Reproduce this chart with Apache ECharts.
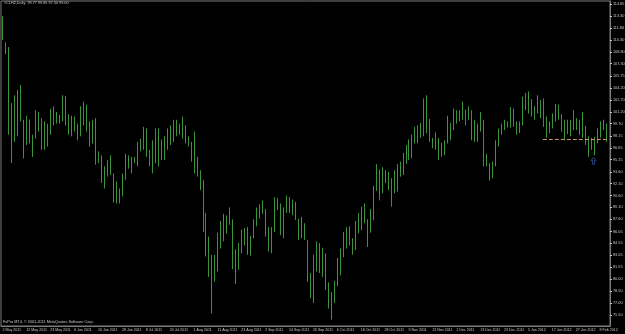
<!DOCTYPE html>
<html>
<head>
<meta charset="utf-8">
<script src="https://cdn.jsdelivr.net/npm/echarts@6/dist/echarts.min.js"></script>
<style>
    html, body { margin: 0; padding: 0; background: #000; }
    #chart { width: 625px; height: 334px; }
</style>
</head>
<body>
<div id="chart"></div>
<script>
// daily high / low of each bar, left to right
const highs = [
    113.3, 110.0, 109.4, 102.3, 103.3, 104.0, 104.6, 100.2, 100.7, 100.2,
    98.3, 101.4, 101.2, 100.4, 100.0, 99.7, 101.6, 101.9, 101.2, 100.8,
    103.3, 103.2, 100.9, 100.7, 100.6, 99.7, 101.9, 102.5, 102.1, 100.0,
    100.2, 100.4, 96.2, 95.7, 94.3, 95.1, 95.7, 93.4, 92.4, 91.5,
    93.4, 95.9, 95.7, 95.5, 95.5, 97.4, 97.8, 99.3, 99.1, 96.4,
    97.6, 99.1, 99.1, 97.7, 98.1, 99.1, 99.5, 100.2, 100.2, 99.7,
    100.6, 99.5, 98.1, 97.4, 98.7, 95.5, 93.8, 92.6, 88.4, 85.4,
    83.1, 83.1, 85.9, 87.4, 88.3, 88.1, 89.1, 87.6, 83.8, 84.6,
    86.3, 86.5, 86.6, 85.5, 87.6, 89.1, 89.5, 90.0, 88.9, 86.6,
    86.6, 90.4, 90.3, 89.6, 89.1, 90.6, 90.4, 90.1, 89.8, 87.7,
    87.9, 87.1, 85.0, 80.8, 83.1, 84.8, 84.6, 84.0, 83.3, 79.6,
    78.4, 79.8, 82.7, 83.9, 86.0, 86.6, 86.7, 85.2, 87.4, 88.4,
    89.2, 89.6, 87.6, 88.9, 91.8, 94.6, 93.9, 94.2, 93.8, 93.6,
    92.8, 93.8, 94.6, 94.9, 96.0, 97.0, 97.7, 98.3, 99.3, 99.5,
    99.8, 102.9, 103.3, 100.3, 97.9, 98.6, 97.9, 97.3, 97.6, 100.7,
    99.8, 101.6, 101.4, 101.4, 102.5, 101.5, 101.9, 101.4, 100.2, 99.7,
    101.2, 100.2, 95.9, 94.7, 94.9, 97.6, 99.1, 99.7, 100.2, 100.0,
    101.8, 101.6, 100.0, 100.0, 103.1, 103.6, 103.8, 102.8, 101.9, 103.3,
    102.7, 102.9, 100.6, 100.0, 101.0, 102.2, 102.1, 100.9, 100.2, 100.2,
    100.2, 101.4, 100.4, 100.2, 101.2, 99.4, 98.1, 97.9, 98.0, 99.1,
    100.0, 100.2, 99.7
]
const lows = [
    110.3, 108.5, 98.3, 94.7, 97.4, 98.1, 100.0, 95.3, 97.0, 97.2,
    95.5, 97.8, 98.7, 96.4, 96.4, 96.8, 98.3, 99.5, 99.7, 99.7,
    100.0, 99.5, 98.3, 98.1, 98.7, 97.6, 98.1, 99.5, 98.7, 96.8,
    97.2, 94.5, 94.7, 92.2, 91.5, 93.0, 93.2, 89.7, 89.6, 89.6,
    90.5, 92.6, 94.0, 93.4, 94.7, 94.3, 96.2, 96.4, 95.5, 94.3,
    93.4, 94.7, 94.3, 95.1, 95.1, 96.4, 97.0, 97.4, 98.1, 98.3,
    97.8, 97.2, 96.8, 94.9, 93.4, 93.0, 91.3, 86.0, 82.9, 80.3,
    75.7, 79.7, 81.0, 83.9, 84.8, 85.8, 86.9, 81.3, 79.4, 81.2,
    83.3, 84.3, 83.1, 83.0, 85.2, 86.7, 87.7, 88.3, 85.4, 83.5,
    83.3, 86.0, 88.8, 85.6, 85.2, 88.4, 88.4, 88.1, 87.5, 85.0,
    85.2, 85.0, 79.7, 77.6, 77.0, 81.0, 80.8, 80.3, 78.7, 76.3,
    74.9, 77.0, 79.1, 80.5, 82.8, 83.9, 84.3, 83.1, 83.7, 85.8,
    86.2, 87.1, 84.1, 85.9, 87.5, 91.2, 90.0, 90.9, 92.2, 91.3,
    89.2, 90.9, 91.1, 93.0, 93.2, 94.6, 95.1, 95.3, 97.2, 97.2,
    97.9, 98.1, 98.5, 97.4, 96.6, 96.4, 95.1, 95.5, 95.7, 97.2,
    97.6, 98.9, 99.7, 100.0, 100.2, 99.5, 100.2, 97.6, 97.4, 97.4,
    98.7, 94.3, 94.3, 92.5, 92.8, 94.3, 96.8, 98.3, 98.9, 99.2,
    99.2, 99.3, 98.3, 98.5, 99.5, 101.4, 101.0, 100.6, 100.2, 101.0,
    100.4, 99.3, 97.9, 98.5, 99.1, 100.0, 100.2, 98.7, 97.6, 98.4,
    98.1, 98.9, 98.9, 98.3, 97.9, 97.0, 95.5, 96.4, 95.7, 97.2,
    97.9, 98.9, 97.4
]
// date labels, one every 8 bars
const xLabels = [
    '2 May 2011', '12 May 2011', '23 May 2011', '6 Jun 2011', '16 Jun 2011',
    '28 Jun 2011', '8 Jul 2011', '20 Jul 2011', '1 Aug 2011', '11 Aug 2011',
    '23 Aug 2011', '2 Sep 2011', '14 Sep 2011', '26 Sep 2011', '6 Oct 2011',
    '18 Oct 2011', '28 Oct 2011', '9 Nov 2011', '21 Nov 2011', '1 Dec 2011',
    '13 Dec 2011', '23 Dec 2011', '5 Jan 2012', '17 Jan 2012', '27 Jan 2012',
    '8 Feb 2012'
]
// price scale labels
const yTicks = [
    114.85, 113.30, 111.80, 110.30, 108.80, 107.30, 105.75, 104.20, 102.70, 101.20,
    99.70, 98.15, 96.65, 95.15, 93.60, 92.10, 90.60, 89.10, 87.60, 86.05,
    84.55, 83.05, 81.55, 80.00, 78.50, 77.00, 75.50, 73.95
]
const lastClose = 99.00
const levelStart = 181
const levelPrice = 97.7
const arrowIndex = 198
const arrowPrice = 95.0
const headerText = '#CLH2,Daily  99.77 99.85 97.30 99.00'
const footerText = 'FxPro MT4, \u00a9 2001-2011 MetaQuotes Software Corp.'

const barColor = '#3a953a'
const axisColor = '#7c7c7c'
const textColor = '#c8c8c8'
const font = 'Liberation Sans'

// one spare slot on the right, like the chart shift of the terminal
const categories = highs.map((_, i) => String(i)).concat([''])

const chart = echarts.init(document.getElementById('chart'))

// 高低线
const renderBar = (params, api) => {
    const top = api.coord([api.value(0), api.value(1)])
    const bottom = api.coord([api.value(0), api.value(2)])
    const x = Math.round(top[0]) + 0.5
    return {
        type: 'line',
        shape: { x1: x, y1: top[1], x2: x, y2: bottom[1] },
        style: { stroke: barColor, lineWidth: 1 }
    }
}

const option = {
    backgroundColor: '#000',
    animation: false,
    grid: {
        left: 1,
        right: 15,
        top: 1,
        bottom: 8,
        show: true,
        borderColor: axisColor,
        borderWidth: 1,
        outerBoundsMode: 'none'
    },
    xAxis: {
        type: 'category',
        data: categories,
        boundaryGap: true,
        axisLine: { lineStyle: { color: axisColor } },
        axisTick: { interval: 7, alignWithLabel: true, length: 2, lineStyle: { color: textColor } },
        axisLabel: {
            interval: 7,
            align: 'left',
            margin: 2,
            fontSize: 3.6,
            fontFamily: font,
            color: textColor,
            formatter: v => xLabels[Number(v) / 8] || ''
        },
        splitLine: { show: false }
    },
    yAxis: {
        type: 'value',
        position: 'right',
        min: 74.09,
        max: 115.23,
        axisLine: { show: true, lineStyle: { color: axisColor } },
        axisTick: { show: true, length: 2, customValues: yTicks, lineStyle: { color: textColor } },
        axisLabel: {
            customValues: yTicks,
            margin: 3,
            fontSize: 3.8,
            fontFamily: font,
            color: textColor,
            formatter: v => v.toFixed(2)
        },
        splitLine: { show: false }
    },
    graphic: [
        {
            type: 'text',
            left: 4,
            top: 1,
            style: { text: headerText, fill: textColor, fontSize: 3.8, fontFamily: font }
        },
        {
            type: 'text',
            left: 3,
            top: 320,
            style: { text: footerText, fill: textColor, fontSize: 3.8, fontFamily: font }
        }
    ],
    series: [
        {
            type: 'custom',
            renderItem: renderBar,
            data: highs.map((h, i) => [i, h, lows[i]]),
            encode: { x: 0, y: [1, 2] },
            markLine: {
                silent: true,
                symbol: 'none',
                lineStyle: { opacity: 0 },
                label: {
                    position: 'end',
                    distance: 3,
                    formatter: lastClose.toFixed(2),
                    backgroundColor: '#fff',
                    color: '#000',
                    fontSize: 3.8,
                    fontFamily: font,
                    padding: [1, 1]
                },
                data: [{ yAxis: lastClose }]
            }
        },
        {
            type: 'line',
            data: [[levelStart, levelPrice], [categories.length - 1, levelPrice]],
            symbol: 'none',
            lineStyle: { color: '#c89a6c', width: 1, type: [4, 2] }
        },
        {
            type: 'scatter',
            data: [[arrowIndex, arrowPrice]],
            symbol: 'path://M5,0 L10,5 L7,5 L7,11 L3,11 L3,5 L0,5 Z',
            symbolSize: [5, 7],
            itemStyle: { color: 'rgba(0,0,0,0)', borderColor: '#3a68c8', borderWidth: 0.8 }
        }
    ]
}

chart.setOption(option)
</script>
</body>
</html>
